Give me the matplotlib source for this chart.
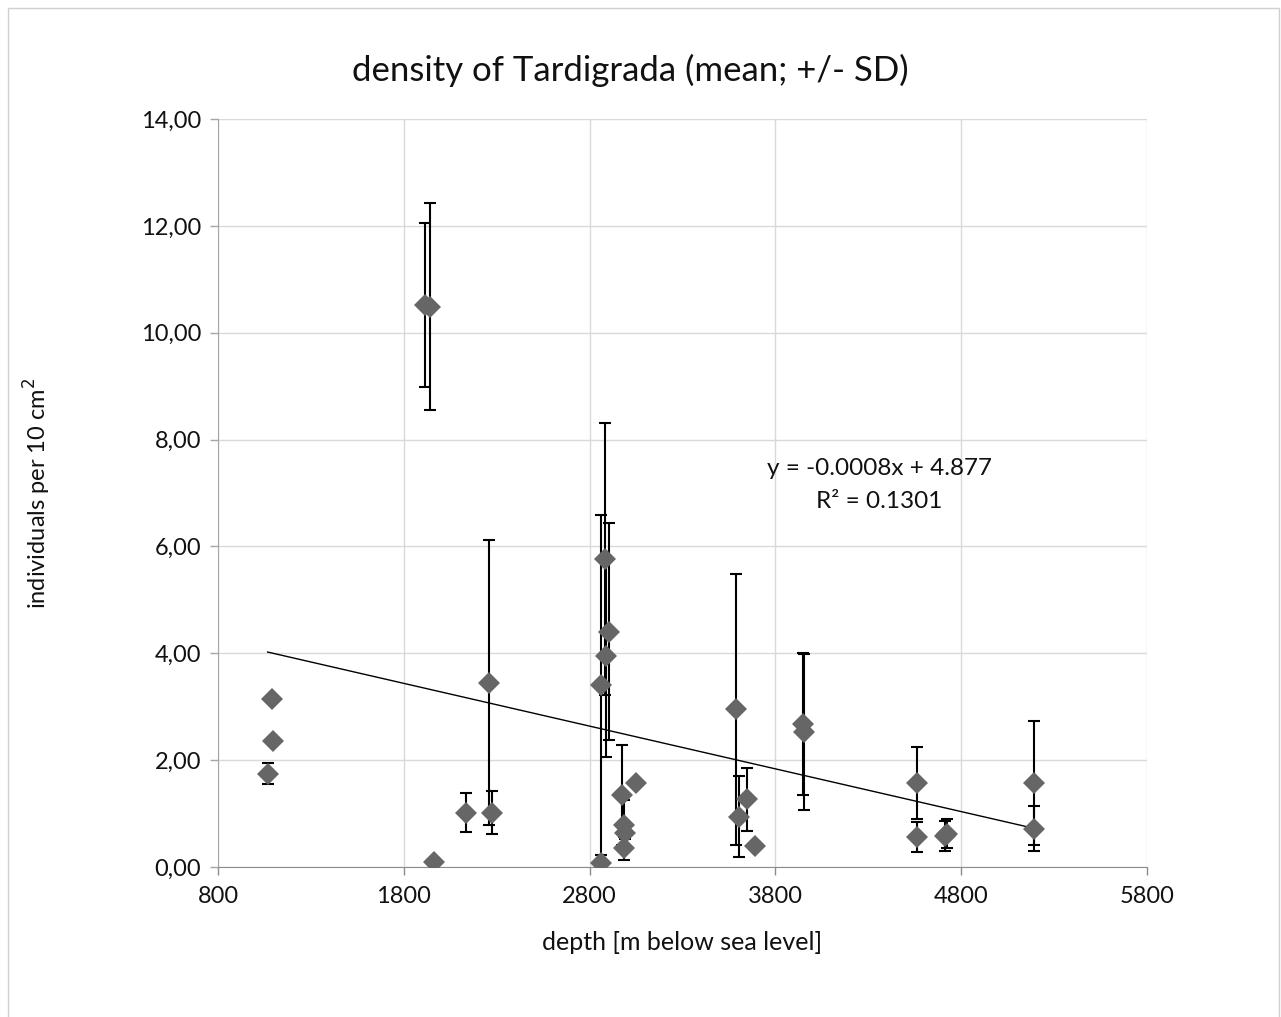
import numpy as np
import matplotlib
matplotlib.use("Agg")
import matplotlib.pyplot as plt
from matplotlib.patches import Rectangle
from matplotlib.ticker import FuncFormatter

plt.rcParams["font.family"] = ["Lato", "DejaVu Sans"]

# depth [m], mean density, SD (nan = no error bar drawn)
depth = [1067, 1089, 1098, 1914, 1941, 1962, 2135, 2260, 2273, 2860,
         2861, 2883, 2888, 2906, 2973, 2987, 2990, 2987, 3048, 3588,
         3606, 3645, 3690, 3950, 3952, 4560, 4560, 4712, 4722, 5192, 5192]
mean = [1.75, 3.14, 2.36, 10.52, 10.49, 0.10, 1.02, 3.45, 1.02, 0.08,
        3.41, 5.76, 3.94, 4.40, 1.35, 0.79, 0.63, 0.35, 1.57, 2.95,
        0.94, 1.27, 0.40, 2.68, 2.53, 1.57, 0.57, 0.58, 0.62, 1.58, 0.72]
sd = [0.20, np.nan, np.nan, 1.54, 1.94, np.nan, 0.36, 2.67, 0.40, np.nan,
      3.18, 2.55, 1.89, 2.03, 0.93, 0.46, 0.10, 0.22, np.nan, 2.53,
      0.76, 0.59, np.nan, 1.33, 1.46, 0.68, 0.28, 0.28, 0.27, 1.16, 0.42]

# linear trend as printed on the chart
slope, intercept, r2 = -0.0008, 4.877, 0.1301

x = np.array(depth, float)
y = np.array(mean, float)
e = np.array(sd, float)
has_err = ~np.isnan(e)

fig = plt.figure(figsize=(12.81, 10.17), dpi=100)
fig.patches.append(Rectangle((8 / 1281, -0.01), 1 - 10 / 1281, 1 - 8 / 1017 + 0.01,
                             transform=fig.transFigure, fill=False,
                             edgecolor="#d0d0d0", lw=1.0))
ax = fig.add_axes([218 / 1281, 1 - 867 / 1017, (1147 - 218) / 1281, (867 - 119) / 1017])

ax.errorbar(x[has_err], y[has_err], yerr=e[has_err], fmt="none",
            ecolor="black", elinewidth=1.5, capsize=4.5, capthick=1.5, zorder=3)
ax.plot(x, y, ls="none", marker="D", ms=11, color="#666666",
        markeredgewidth=0, zorder=4)

xt = np.array([x.min(), x.max()])
ax.plot(xt, slope * xt + intercept, color="black", lw=1.0, zorder=2)

ax.set_xlim(800, 5800)
ax.set_ylim(0, 14)
ax.set_xticks(range(800, 5801, 1000))
ax.set_yticks(range(0, 15, 2))
ax.yaxis.set_major_formatter(FuncFormatter(lambda v, p: f"{v:.2f}".replace(".", ",")))
ax.grid(True, color="#d9d9d9", lw=1.0, zorder=0)
ax.set_axisbelow(True)
for s in ("top", "right"):
    ax.spines[s].set_visible(False)
ax.spines["left"].set_color("#a6a6a6")
ax.spines["bottom"].set_color("#8c8c8c")
ax.tick_params(axis="y", colors="#a6a6a6", labelcolor="#111111", labelsize=17,
               length=6, width=1, pad=6)
ax.tick_params(axis="x", colors="#8c8c8c", labelcolor="#111111", labelsize=17,
               length=6, width=1, pad=8)

ax.set_xlabel("depth [m below sea level]", fontsize=18, color="#111111")
ax.set_ylabel("individuals per 10 cm$^2$", fontsize=17, color="#111111")
ax.xaxis.set_label_coords(0.5, -0.1003)
ax.yaxis.set_label_coords(-0.194, 0.5)
ax.xaxis.label.set_va("center")
ax.yaxis.label.set_va("center")
fig.text(630 / 1281, 1 - 70 / 1017, "density of Tardigrada (mean; +/- SD)",
         fontsize=25, ha="center", va="center", color="#111111")
ax.text(4358, 7.15, f"y = {slope}x + {intercept}\nR\u00b2 = {r2}",
        fontsize=17.5, ha="center", va="center", linespacing=1.75, color="#111111")

fig.savefig("out.png", dpi=100)
